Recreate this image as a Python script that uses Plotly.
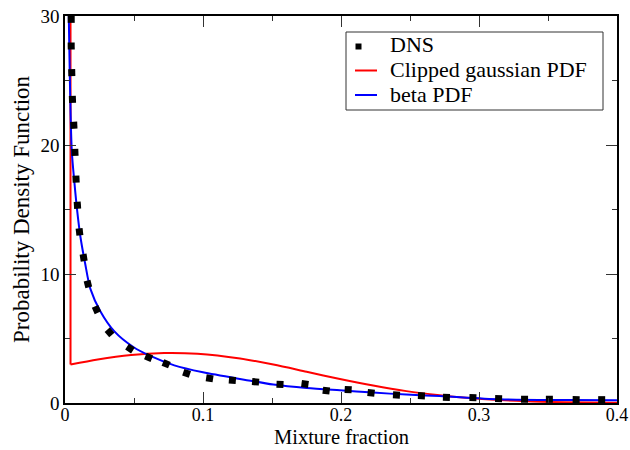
import numpy as np
import plotly.graph_objects as go

# DNS samples of the mixture-fraction PDF
dns_x = [0.0045, 0.0045, 0.0049, 0.0054, 0.0064, 0.0072, 0.0080, 0.0090, 0.0105,
         0.0135, 0.0166, 0.0228, 0.0323, 0.0471, 0.0606, 0.0733, 0.0881, 0.1048,
         0.1213, 0.1381, 0.1558, 0.1739, 0.1893, 0.2052, 0.2218, 0.2402, 0.2583,
         0.2764, 0.2956, 0.3142, 0.3330, 0.3510, 0.3704, 0.3889]
dns_y = [29.74, 27.67, 25.61, 23.54, 21.53, 19.43, 17.36, 15.33, 13.27,
         11.27, 9.22, 7.24, 5.48, 4.22, 3.54, 3.04, 2.30, 1.91,
         1.76, 1.64, 1.45, 1.47, 0.96, 1.04, 0.78, 0.62, 0.56,
         0.44, 0.42, 0.34, 0.29, 0.29, 0.26, 0.26]

# Clipped gaussian model (first point: delta spike at the lean boundary)
gauss_x = [0.0040, 0.0040, 0.0237, 0.0479, 0.0719, 0.0960, 0.1269, 0.1510, 0.1751,
           0.1992, 0.2233, 0.2474, 0.2715, 0.2908, 0.3150, 0.3390, 0.3631, 0.4000]
gauss_y = [30.0, 2.98, 3.38, 3.73, 3.88, 3.82, 3.45, 2.98, 2.42,
           1.86, 1.35, 0.92, 0.60, 0.40, 0.23, 0.12, 0.06, 0.02]

# Beta-function model
beta_x = [0.00275, 0.0049, 0.0069, 0.0088, 0.0112, 0.0146, 0.0184, 0.0257, 0.0358,
          0.0495, 0.0618, 0.0792, 0.1000, 0.1298, 0.1510, 0.1751, 0.1992, 0.2233,
          0.2474, 0.2715, 0.3150, 0.3631, 0.4000]
beta_y = [30.0, 19.59, 17.01, 14.94, 12.87, 10.81, 8.85, 7.10, 5.55,
          4.34, 3.65, 2.92, 2.38, 1.81, 1.43, 1.16, 0.98, 0.81,
          0.65, 0.54, 0.29, 0.23, 0.21]

x_ticks = [0, 0.1, 0.2, 0.3, 0.4]
x_tick_text = ["0", "0.1", "0.2", "0.3", "0.4"]
y_ticks = [0, 10, 20, 30]
y_tick_text = ["0", "10", "20", "30"]

x_title = "Mixture fraction"
y_title = "Probability Density Function"
legend_names = ["DNS", "Clipped gaussian PDF", "beta PDF"]
colors = {"DNS": "black", "Clipped gaussian PDF": "#ff0000", "beta PDF": "#0000ff"}

W, H = 630, 450
M = dict(l=65, r=13, t=16, b=47)
plot_w = W - M["l"] - M["r"]
plot_h = H - M["t"] - M["b"]


def paper(px, py):
    """Page pixel -> paper coordinates of the plotting area."""
    return (px - M["l"]) / plot_w, (H - M["b"] - py) / plot_h


# orient each DNS square along the local direction of the data (screen space)
px_per_x, px_per_y = plot_w / 0.4, plot_h / 30.0
dx = np.gradient(np.array(dns_x)) * px_per_x
dy = np.gradient(np.array(dns_y)) * px_per_y
dns_angle = np.degrees(np.arctan2(-dy, dx))

font_family = "Liberation Serif"

fig = go.Figure()

# spike of the clipped gaussian
fig.add_trace(go.Scatter(
    x=gauss_x[:2], y=gauss_y[:2], mode="lines",
    line=dict(color=colors["Clipped gaussian PDF"], width=2), hoverinfo="skip"))
fig.add_trace(go.Scatter(
    x=gauss_x[1:], y=gauss_y[1:], mode="lines", name=legend_names[1],
    line=dict(color=colors[legend_names[1]], width=2, shape="spline", smoothing=0.8)))
fig.add_trace(go.Scatter(
    x=beta_x, y=beta_y, mode="lines", name=legend_names[2],
    line=dict(color=colors[legend_names[2]], width=2, shape="spline", smoothing=0.8)))
fig.add_trace(go.Scatter(
    x=dns_x, y=dns_y, mode="markers", name=legend_names[0],
    marker=dict(symbol="square", size=7, color=colors["DNS"], angle=dns_angle,
                line=dict(width=0))))

axis_common = dict(
    showline=True, linewidth=1.5, linecolor="black", mirror="ticks",
    ticks="inside", ticklen=11, tickwidth=1, tickcolor="#333333",
    showgrid=False, zeroline=False, automargin=False,
)
minor_common = dict(ticks="inside", ticklen=5, tickwidth=1, tickcolor="#333333")

fig.update_xaxes(
    range=[0, 0.4], tickvals=x_ticks, ticktext=x_tick_text,
    minor=dict(tickvals=[0.05, 0.15, 0.25, 0.35], **minor_common),
    tickfont=dict(family=font_family, size=18, color="black"),
    ticklabelstandoff=-5,
    **axis_common)
fig.update_yaxes(
    range=[0, 30], tickvals=y_ticks, ticktext=y_tick_text,
    minor=dict(tickvals=[5, 15, 25], **minor_common),
    tickfont=dict(family=font_family, size=19, color="black"),
    title=dict(text=y_title,
               font=dict(family=font_family, size=23, color="black"), standoff=4),
    **axis_common)

annotations = []
# x-axis title, placed between the tick labels and the bottom edge of the page
_, tyy = paper(0, 436.5)
annotations.append(dict(text=x_title, xref="paper", yref="paper", x=0.5, y=tyy,
                        xanchor="center", yanchor="middle", showarrow=False,
                        font=dict(family=font_family, size=20.5, color="black")))

# legend box drawn in paper space
bx0, by1 = paper(346, 32)
bx1, by0 = paper(603, 110)
shapes = [dict(type="rect", xref="paper", yref="paper", x0=bx0, x1=bx1, y0=by0, y1=by1,
               line=dict(color="#333333", width=1), fillcolor="white", layer="above")]
row_y = [45, 69.5, 94]
for name, ry in zip(legend_names, row_y):
    if name == "DNS":
        sx0, sy0 = paper(355.5, ry + 1.5 + 3)
        sx1, sy1 = paper(361.5, ry + 1.5 - 3)
        shapes.append(dict(type="rect", xref="paper", yref="paper",
                           x0=sx0, x1=sx1, y0=sy0, y1=sy1,
                           line=dict(width=0), fillcolor=colors[name], layer="above"))
    else:
        lx0, ly = paper(355, ry + 1)
        lx1, _ = paper(377, ry + 1)
        shapes.append(dict(type="line", xref="paper", yref="paper",
                           x0=lx0, x1=lx1, y0=ly, y1=ly,
                           line=dict(color=colors[name], width=2), layer="above"))
    tx, ty = paper(388, ry)
    annotations.append(dict(text=name, xref="paper", yref="paper", x=tx, y=ty,
                            xanchor="left", yanchor="middle", showarrow=False,
                            font=dict(family=font_family, size=22, color="black")))

fig.update_layout(
    width=W, height=H,
    margin=dict(**M, pad=0),
    paper_bgcolor="white", plot_bgcolor="white",
    font=dict(family=font_family, color="black", size=20),
    showlegend=False,
    shapes=shapes, annotations=annotations,
)

fig.write_html("out.html")
